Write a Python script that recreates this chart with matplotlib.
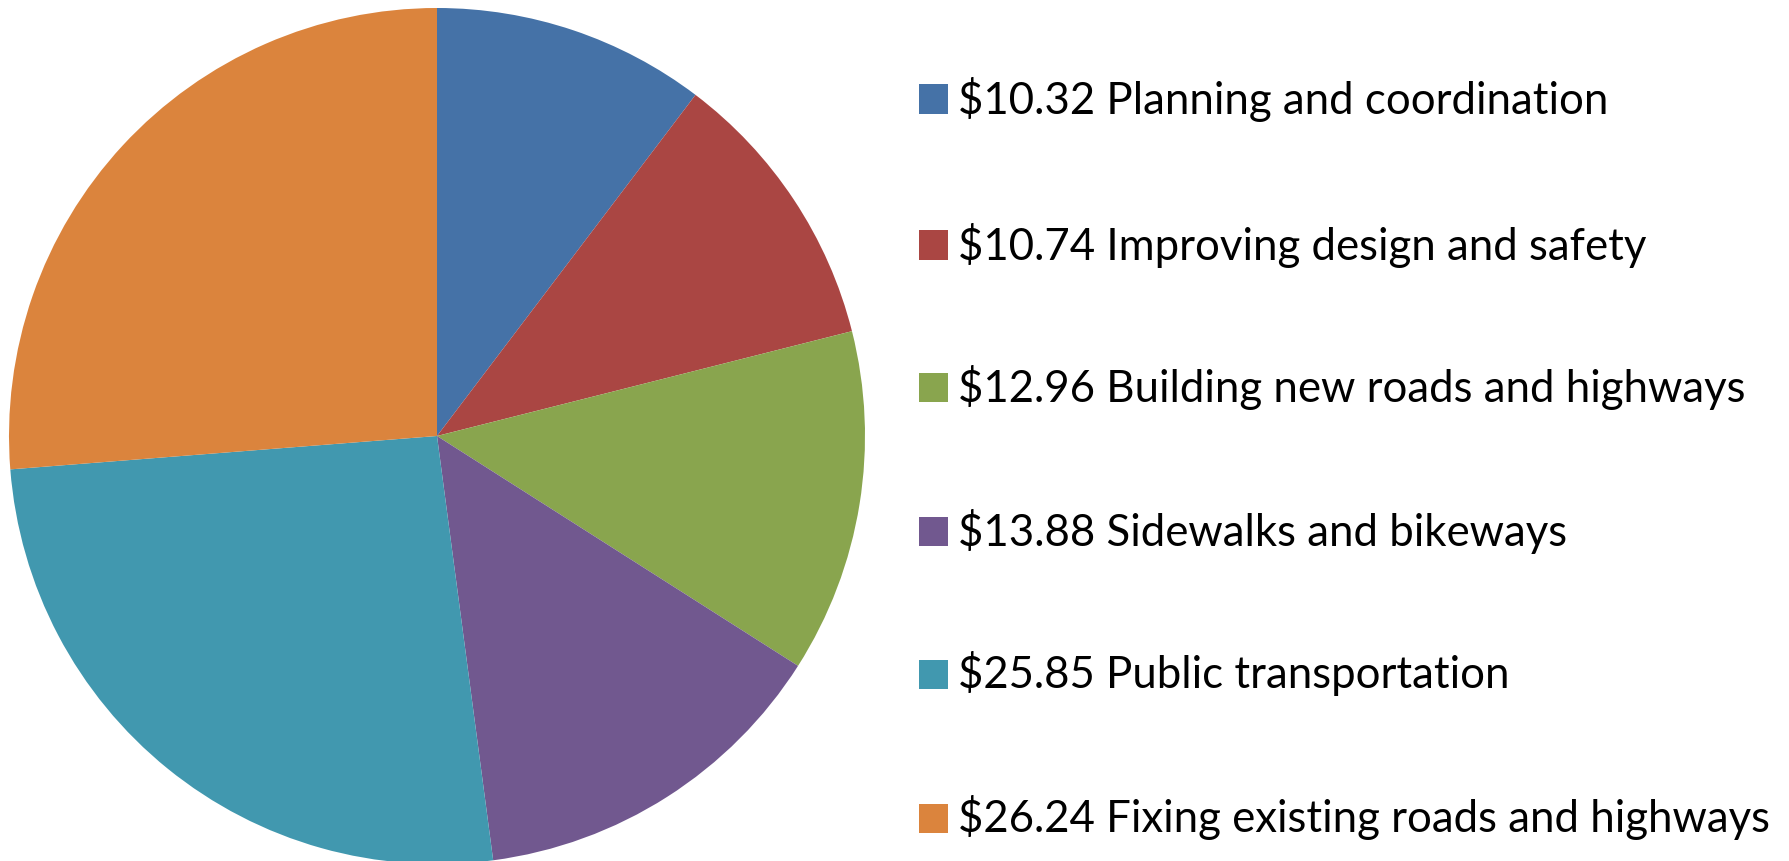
import matplotlib
matplotlib.use("Agg")
import matplotlib.pyplot as plt
from matplotlib.patches import Rectangle

plt.rcParams['font.family'] = ['Lato', 'DejaVu Sans']

# spending per category (dollars)
values = [10.32, 10.74, 12.96, 13.88, 25.85, 26.24]
names = ["Planning and coordination", "Improving design and safety",
         "Building new roads and highways", "Sidewalks and bikeways",
         "Public transportation", "Fixing existing roads and highways"]
colors = ["#4572A7", "#AA4643", "#89A54E", "#71588F", "#4198AF", "#DB843D"]

W, H = 1789, 861
fig = plt.figure(figsize=(W / 100, H / 100), dpi=100)

# pie axes, center ~ (437, 425) px from bottom-left, radius ~428 px
cx, cy, r = 437, 425, 428
ax = fig.add_axes([(cx - r) / W, (cy - r) / H, 2 * r / W, 2 * r / H])
ax.pie(values, colors=colors, startangle=90, counterclock=False,
       wedgeprops=dict(linewidth=0))
ax.set_xlim(-1, 1)
ax.set_ylim(-1, 1)
ax.set_aspect('equal')
ax.axis('off')

# legend drawn by hand to match spacing
row_y = [99, 245, 387, 531, 674, 818]
sq = 29
for i in range(len(values)):
    yc = H - row_y[i]
    fig.patches.append(Rectangle((919 / W, (yc - sq / 2) / H), sq / W, sq / H,
                                 transform=fig.transFigure, facecolor=colors[i],
                                 edgecolor='none'))
    fig.text(958 / W, yc / H, "$%.2f %s" % (values[i], names[i]),
             fontsize=31.5, va='center', ha='left', color='black')

fig.savefig("out.png", dpi=100, facecolor='white')
